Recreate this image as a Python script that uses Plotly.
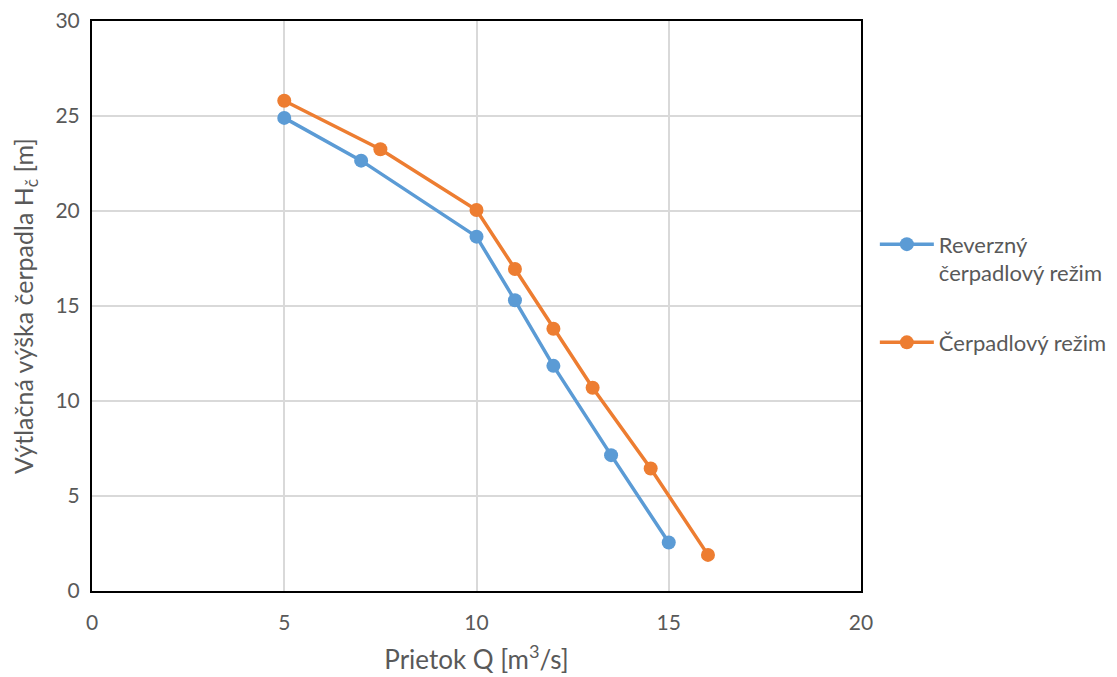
import plotly.graph_objects as go

q_rev = [5.0, 7.0, 10.0, 11.0, 12.0, 13.5, 15.0]
h_rev = [24.9, 22.65, 18.65, 15.3, 11.85, 7.15, 2.55]
q_pump = [5.0, 7.5, 10.0, 11.0, 12.0, 13.02, 14.53, 16.02]
h_pump = [25.8, 23.25, 20.05, 16.95, 13.8, 10.7, 6.45, 1.9]

name_rev = "Reverzný<br>čerpadlový režim"
name_pump = "Čerpadlový režim"

FONT = "Lato, Open Sans, sans-serif"
GRAY = "#595959"

fig = go.Figure()
fig.add_trace(go.Scatter(x=q_rev, y=h_rev, name=name_rev, mode="lines+markers",
                         legendgroup="a",
                         line=dict(color="#5B9BD5", width=3.5),
                         marker=dict(color="#5B9BD5", size=14)))
fig.add_trace(go.Scatter(x=q_pump, y=h_pump, name=name_pump, mode="lines+markers",
                         legendgroup="b",
                         line=dict(color="#ED7D31", width=3.5),
                         marker=dict(color="#ED7D31", size=14)))

fig.update_layout(
    width=1117, height=677,
    margin=dict(l=84, r=264, t=13, b=94, autoexpand=False),
    paper_bgcolor="white", plot_bgcolor="white",
    font=dict(family=FONT, color=GRAY, size=20),
    showlegend=True,
    legend=dict(x=1.018, y=0.645, xanchor="left", yanchor="top",
                font=dict(size=22, color=GRAY), tracegroupgap=38,
                itemwidth=54,
                valign="top", bgcolor="rgba(0,0,0,0)"),
    xaxis=dict(range=[0, 20], tickvals=[0, 5, 10, 15, 20], showgrid=True,
               gridcolor="#d9d9d9", gridwidth=1.5, zeroline=False,
               showline=True, linecolor="black", linewidth=2, mirror=True,
               ticks="", tickfont=dict(size=21, color=GRAY), ticklabelstandoff=12,
               ticklabeloverflow="allow", automargin=False,
               title=dict(text="Prietok Q [m<sup>3</sup>/s]", font=dict(size=26, color=GRAY), standoff=18)),
    yaxis=dict(range=[0, 30], tickvals=[0, 5, 10, 15, 20, 25, 30], showgrid=True,
               gridcolor="#d9d9d9", gridwidth=1.5, zeroline=False,
               showline=True, linecolor="black", linewidth=2, mirror=True,
               ticks="", tickfont=dict(size=21, color=GRAY), ticklabelstandoff=6,
               ticklabeloverflow="allow", automargin=False,
               title=dict(text="Výtlačná výška čerpadla H<sub>č</sub> [m]", font=dict(size=25, color=GRAY), standoff=16)),
)

fig.write_html("out.html")
